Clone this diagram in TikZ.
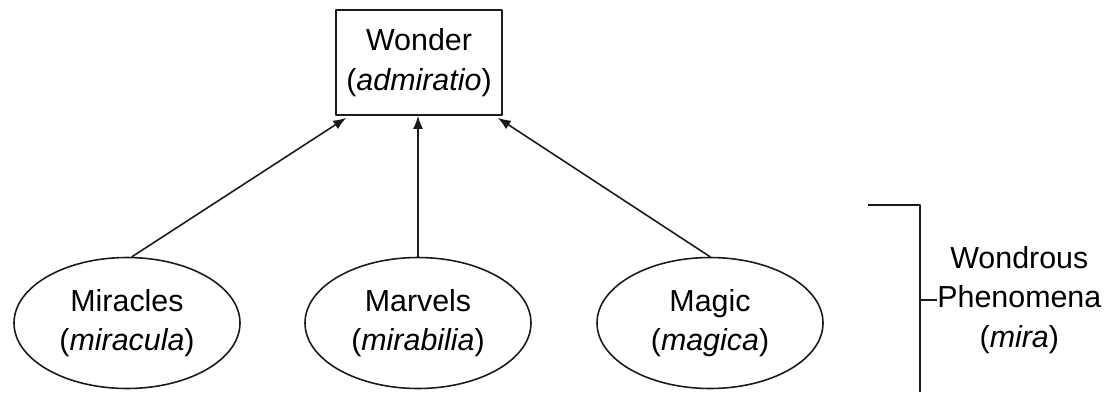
\documentclass[tikz,border=0pt]{standalone}
\usepackage{fontspec}
\setmainfont{Liberation Sans}
\usetikzlibrary{arrows.meta,calc,shapes.geometric}
\definecolor{wonDark}{HTML}{1A1A1A}
\newcommand{\wonLineW}{0.9pt}

\begin{document}
\begin{tikzpicture}[line cap=round, line join=round,
    font=\fontsize{17.3}{22.5}\selectfont,
    wonbox/.style={draw=wonDark, line width=\wonLineW, minimum width=3.32cm, minimum height=2.1cm, align=center, inner sep=0pt},
    phenom/.style={ellipse, draw=wonDark, line width=\wonLineW, minimum width=4.52cm, minimum height=2.62cm, align=center, inner sep=0pt},
    wonarrow/.style={wonDark, line width=\wonLineW, -{Latex[length=2.6mm,width=2mm]}}]
  \useasboundingbox (0,0) rectangle (22.26,7.84);

  % ===== Top: wonder =====
  \node[wonbox] (wonder) at (8.38,6.59) {Wonder\\(\textit{admiratio})};

  % ===== Bottom: the three kinds =====
  \node[phenom] (miracles) at (2.54,1.38) {Miracles\\(\textit{miracula})};
  \node[phenom] (marvels) at (8.36,1.38) {Marvels\\(\textit{mirabilia})};
  \node[phenom] (magic) at (14.2,1.38) {Magic\\(\textit{magica})};

  % Arrows up to wonder
  \draw[wonarrow] ($(miracles.north)+(0.1,0)$) -- ($(wonder.south west)+(0.22,-0.04)$);
  \draw[wonarrow] (marvels.north) -- (wonder.south -| marvels.north);
  \draw[wonarrow] (magic.north) -- ($(wonder.south east)+(-0.1,-0.04)$);

  % ===== Bracket: wondrous phenomena =====
  \coordinate (brtop) at (18.4,3.74);
  \coordinate (brbot) at (18.4,0);
  \node[align=center, anchor=west, inner sep=0pt] (mira) at (18.74,1.84)
    {Wondrous\\Phenomena\\(\textit{mira})};
  \draw[wonDark, line width=\wonLineW, line cap=butt] ($(brtop)+(-1.04,0)$) -- (brtop) -- (brbot);
  \draw[wonDark, line width=\wonLineW, line cap=butt] (mira.west -| brtop) -- (mira.west);
\end{tikzpicture}
\end{document}
